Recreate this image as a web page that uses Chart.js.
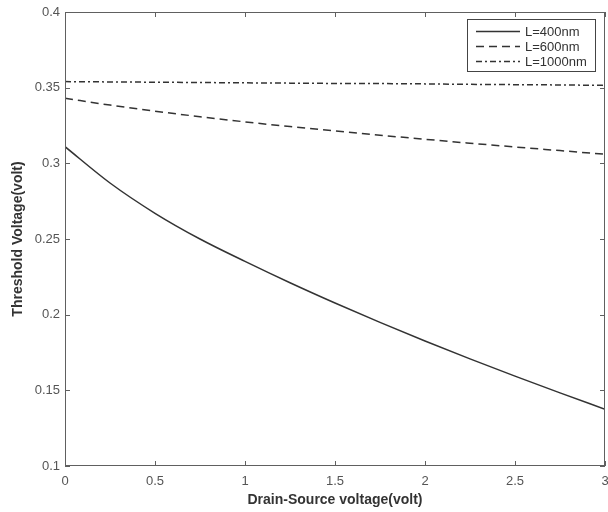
<!DOCTYPE html>
<html>
<head>
<meta charset="utf-8">
<script src="https://cdn.jsdelivr.net/npm/chart.js@4/dist/chart.umd.min.js"></script>
<style>
  html, body { margin: 0; padding: 0; background: #fff; }
  #wrap { width: 608px; height: 512px; }
</style>
</head>
<body>
<div id="wrap"><canvas id="myChart" width="608" height="512"></canvas></div>
<script>
// ---- data ----
let vds = [0, 0.25, 0.5, 0.75, 1, 1.25, 1.5, 1.75, 2, 2.25, 2.5, 2.75, 3]
let vth400 = [0.311, 0.287, 0.267, 0.250, 0.2352, 0.2211, 0.2077, 0.1949, 0.1826, 0.1708, 0.1594, 0.1483, 0.1375]
let vth600 = [0.343, 0.3385, 0.3345, 0.3308, 0.3274, 0.3243, 0.3214, 0.3186, 0.3159, 0.3133, 0.3108, 0.3084, 0.306]
let vth1000 = [0.354, 0.3538, 0.3536, 0.3534, 0.3532, 0.353, 0.3528, 0.3527, 0.3525, 0.3522, 0.352, 0.3518, 0.3515]
let seriesLabels = ['L=400nm', 'L=600nm', 'L=1000nm']
let xTicks = [0, 0.5, 1, 1.5, 2, 2.5, 3]
let yTicks = [0.1, 0.15, 0.2, 0.25, 0.3, 0.35, 0.4]

const lineColor = '#333333'
const axisColor = '#606060'
const font = '"Liberation Sans", Arial, sans-serif'

function pts(ys) {
    return vds.map((x, i) => ({ x: x, y: ys[i] }))
}

// box round the plot with inward ticks on all four sides, like MATLAB
const boxPlugin = {
    id: 'box',
    afterDatasetsDraw(chart) {
        const ctx = chart.ctx
        const a = chart.chartArea
        const xs = chart.scales.x
        const ys = chart.scales.y
        ctx.save()
        ctx.strokeStyle = axisColor
        ctx.lineWidth = 1
        ctx.strokeRect(a.left + 0.5, a.top + 0.5, a.right - a.left - 1, a.bottom - a.top - 1)
        ctx.beginPath()
        xTicks.forEach(v => {
            let px = Math.round(xs.getPixelForValue(v)) + 0.5
            ctx.moveTo(px, a.bottom); ctx.lineTo(px, a.bottom - 5)
            ctx.moveTo(px, a.top); ctx.lineTo(px, a.top + 5)
        })
        yTicks.forEach(v => {
            let py = Math.round(ys.getPixelForValue(v)) + 0.5
            ctx.moveTo(a.left, py); ctx.lineTo(a.left + 5, py)
            ctx.moveTo(a.right, py); ctx.lineTo(a.right - 5, py)
        })
        ctx.stroke()
        ctx.restore()
    }
}

// legend box in the top right corner
const legendPlugin = {
    id: 'legendBox',
    afterDraw(chart) {
        const ctx = chart.ctx
        const a = chart.chartArea
        const bx = a.right - 138, by = a.top + 7, bw = 128, bh = 52
        ctx.save()
        ctx.fillStyle = '#fff'
        ctx.fillRect(bx, by, bw, bh)
        ctx.strokeStyle = '#444'
        ctx.lineWidth = 1
        ctx.strokeRect(bx + 0.5, by + 0.5, bw, bh)
        ctx.font = '13px ' + font
        ctx.textBaseline = 'middle'
        chart.data.datasets.forEach((ds, i) => {
            let y = by + 12.5 + i * 15
            ctx.strokeStyle = lineColor
            ctx.lineWidth = 1.3
            ctx.setLineDash(ds.borderDash || [])
            ctx.beginPath()
            ctx.moveTo(bx + 9, y); ctx.lineTo(bx + 53, y)
            ctx.stroke()
            ctx.setLineDash([])
            ctx.fillStyle = '#333'
            ctx.fillText(ds.label, bx + 58, y + 1)
        })
        ctx.restore()
    }
}

new Chart(document.querySelector('#myChart'), {
    type: 'line',
    data: {
        datasets: [{
            label: seriesLabels[0],
            data: pts(vth400),
            borderColor: lineColor,
            borderWidth: 1.5,
            borderDash: []
        }, {
            label: seriesLabels[1],
            data: pts(vth600),
            borderColor: lineColor,
            borderWidth: 1.5,
            borderDash: [8, 5]
        }, {
            label: seriesLabels[2],
            data: pts(vth1000),
            borderColor: lineColor,
            borderWidth: 1.5,
            borderDash: [6, 3, 2, 3]
        }]
    },
    options: {
        responsive: false,
        animation: false,
        elements: {
            point: { radius: 0 },
            line: { cubicInterpolationMode: 'monotone', fill: false }
        },
        layout: { padding: { top: 12, right: 3, left: 0, bottom: 0 } },
        plugins: {
            legend: { display: false },
            tooltip: { enabled: false }
        },
        scales: {
            x: {
                type: 'linear',
                min: 0,
                max: 3,
                afterBuildTicks: s => { s.ticks = xTicks.map(v => ({ value: v })) },
                grid: { display: false, drawTicks: false },
                border: { display: false },
                ticks: {
                    padding: 8,
                    maxRotation: 0,
                    color: '#555',
                    font: { family: font, size: 13 },
                    callback: v => String(v)
                },
                title: {
                    display: true,
                    text: 'Drain-Source voltage(volt)',
                    color: '#333',
                    font: { family: font, size: 14, weight: 'bold' },
                    padding: { top: 4, bottom: 3 }
                },
                afterFit: s => { s.height = 46; s.paddingLeft = 0; s.paddingRight = 0 }
            },
            y: {
                type: 'linear',
                min: 0.1,
                max: 0.4,
                afterBuildTicks: s => { s.ticks = yTicks.map(v => ({ value: v })) },
                grid: { display: false, drawTicks: false },
                border: { display: false },
                ticks: {
                    padding: 5,
                    color: '#555',
                    font: { family: font, size: 13 },
                    callback: v => String(parseFloat(v.toFixed(2)))
                },
                title: {
                    display: true,
                    text: 'Threshold Voltage(volt)',
                    color: '#333',
                    font: { family: font, size: 14, weight: 'bold' },
                    padding: { top: 10, bottom: 4 }
                },
                afterFit: s => { s.width = 65; s.paddingTop = 0; s.paddingBottom = 0 }
            }
        }
    },
    plugins: [boxPlugin, legendPlugin]
})
</script>
</body>
</html>
